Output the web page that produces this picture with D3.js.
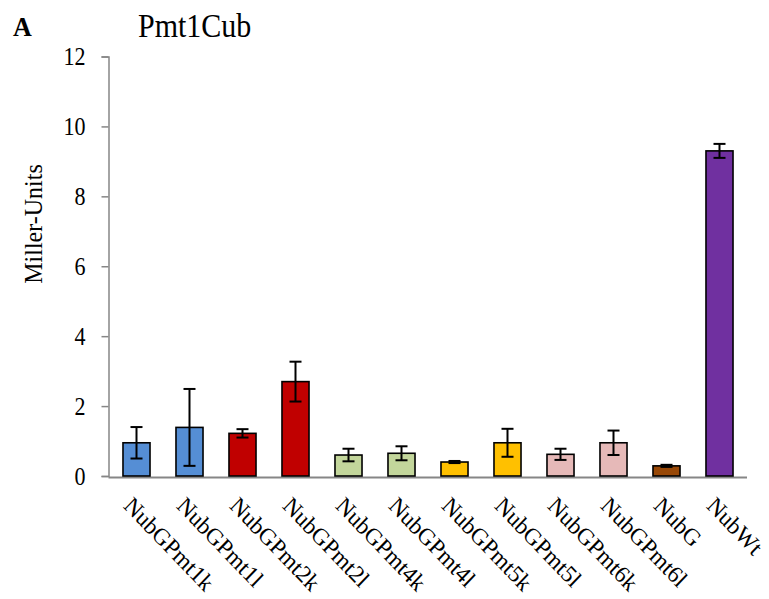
<!DOCTYPE html>
<html>
<head>
<meta charset="utf-8">
<script src="https://cdn.jsdelivr.net/npm/d3@7"></script>
<style>
  html, body { margin: 0; padding: 0; background: #fff; }
  svg { display: block; font-family: "Liberation Serif", "Times New Roman", serif; }
</style>
</head>
<body>
<svg id="chart" width="769" height="599"></svg>
<script>
// Strains measured
const categories = ["NubGPmt1k", "NubGPmt1l", "NubGPmt2k", "NubGPmt2l", "NubGPmt4k", "NubGPmt4l",
                    "NubGPmt5k", "NubGPmt5l", "NubGPmt6k", "NubGPmt6l", "NubG", "NubWt"];
// Mean activity (Miller units) and error
const values = [0.95, 1.39, 1.22, 2.70, 0.60, 0.65, 0.40, 0.95, 0.62, 0.95, 0.29, 9.30];
const errors = [0.45, 1.10, 0.12, 0.57, 0.18, 0.20, 0.03, 0.40, 0.16, 0.35, 0.03, 0.20];
const fills  = ["#558ED5", "#558ED5", "#C00000", "#C00000", "#C3D69B", "#C3D69B",
                "#FFC000", "#FFC000", "#E6B9B8", "#E6B9B8", "#984807", "#7030A0"];
const yTicks = [0, 2, 4, 6, 8, 10, 12];

const svg = d3.select("#chart");
const axisColor = "#868686";
const serif = "'Liberation Serif', 'Times New Roman', serif";

const x = d3.scaleBand().domain(categories).range([110, 746]).paddingInner(0.49).paddingOuter(0.245);
const y = d3.scaleLinear().domain([0, 12]).range([476, 56.5]);

// Y axis
const yAxis = svg.append("g").attr("transform", "translate(108.5,0)")
  .call(d3.axisLeft(y).tickValues(yTicks).tickSize(7).tickFormat(d3.format("d")));
yAxis.select(".domain").attr("stroke", axisColor).attr("stroke-width", 1.5);
yAxis.selectAll(".tick line").attr("stroke", axisColor).attr("stroke-width", 1.5);
yAxis.selectAll(".tick text").remove();
// Tick labels, drawn slightly tall like the rest of the lettering
yAxis.selectAll(".tick").append("text")
  .attr("transform", "translate(-23,0) scale(1,1.13)")
  .attr("dy", "0.34em")
  .attr("text-anchor", "end")
  .attr("fill", "#000")
  .style("font-size", "22px")
  .style("font-family", serif)
  .text(d => d3.format("d")(d));

// X axis baseline
svg.append("line").attr("x1", 108.5).attr("x2", 747).attr("y1", 477.5).attr("y2", 477.5)
  .attr("stroke", axisColor).attr("stroke-width", 2);

// Bars
svg.append("g").selectAll("rect").data(categories).join("rect")
  .attr("x", d => x(d))
  .attr("y", (d, i) => y(values[i]))
  .attr("width", x.bandwidth())
  .attr("height", (d, i) => y(0) - y(values[i]))
  .attr("fill", (d, i) => fills[i])
  .attr("stroke", "#000").attr("stroke-width", 1.6);

// Error bars
const eb = svg.append("g").attr("stroke", "#000").attr("stroke-width", 2);
categories.forEach((c, i) => {
  const cx = x(c) + x.bandwidth() / 2;
  const top = y(values[i] + errors[i]), bot = y(values[i] - errors[i]);
  eb.append("line").attr("x1", cx).attr("x2", cx).attr("y1", top).attr("y2", bot);
  eb.append("line").attr("x1", cx - 6).attr("x2", cx + 6).attr("y1", top).attr("y2", top);
  eb.append("line").attr("x1", cx - 6).attr("x2", cx + 6).attr("y1", bot).attr("y2", bot);
});

// Category labels, slanted
svg.append("g").selectAll("text").data(categories).join("text")
  .attr("transform", d => `translate(${x(d) + x.bandwidth() / 2 - 14},${507}) scale(1,1.04) rotate(45)`)
  .attr("text-anchor", "start")
  .style("font-size", "23px")
  .text(d => d);

// Y axis title
svg.append("text")
  .attr("transform", "translate(42,224) scale(1.06,1) rotate(-90)")
  .attr("text-anchor", "middle")
  .style("font-size", "24px")
  .text("Miller-Units");

// Panel letter and title
svg.append("text").attr("transform", "translate(13,36) scale(1,1.08)")
  .style("font-size", "26px").style("font-weight", "bold").text("A");
svg.append("text").attr("transform", "translate(138,37) scale(1,1.1)")
  .style("font-size", "30px").text("Pmt1Cub");
</script>
</body>
</html>
